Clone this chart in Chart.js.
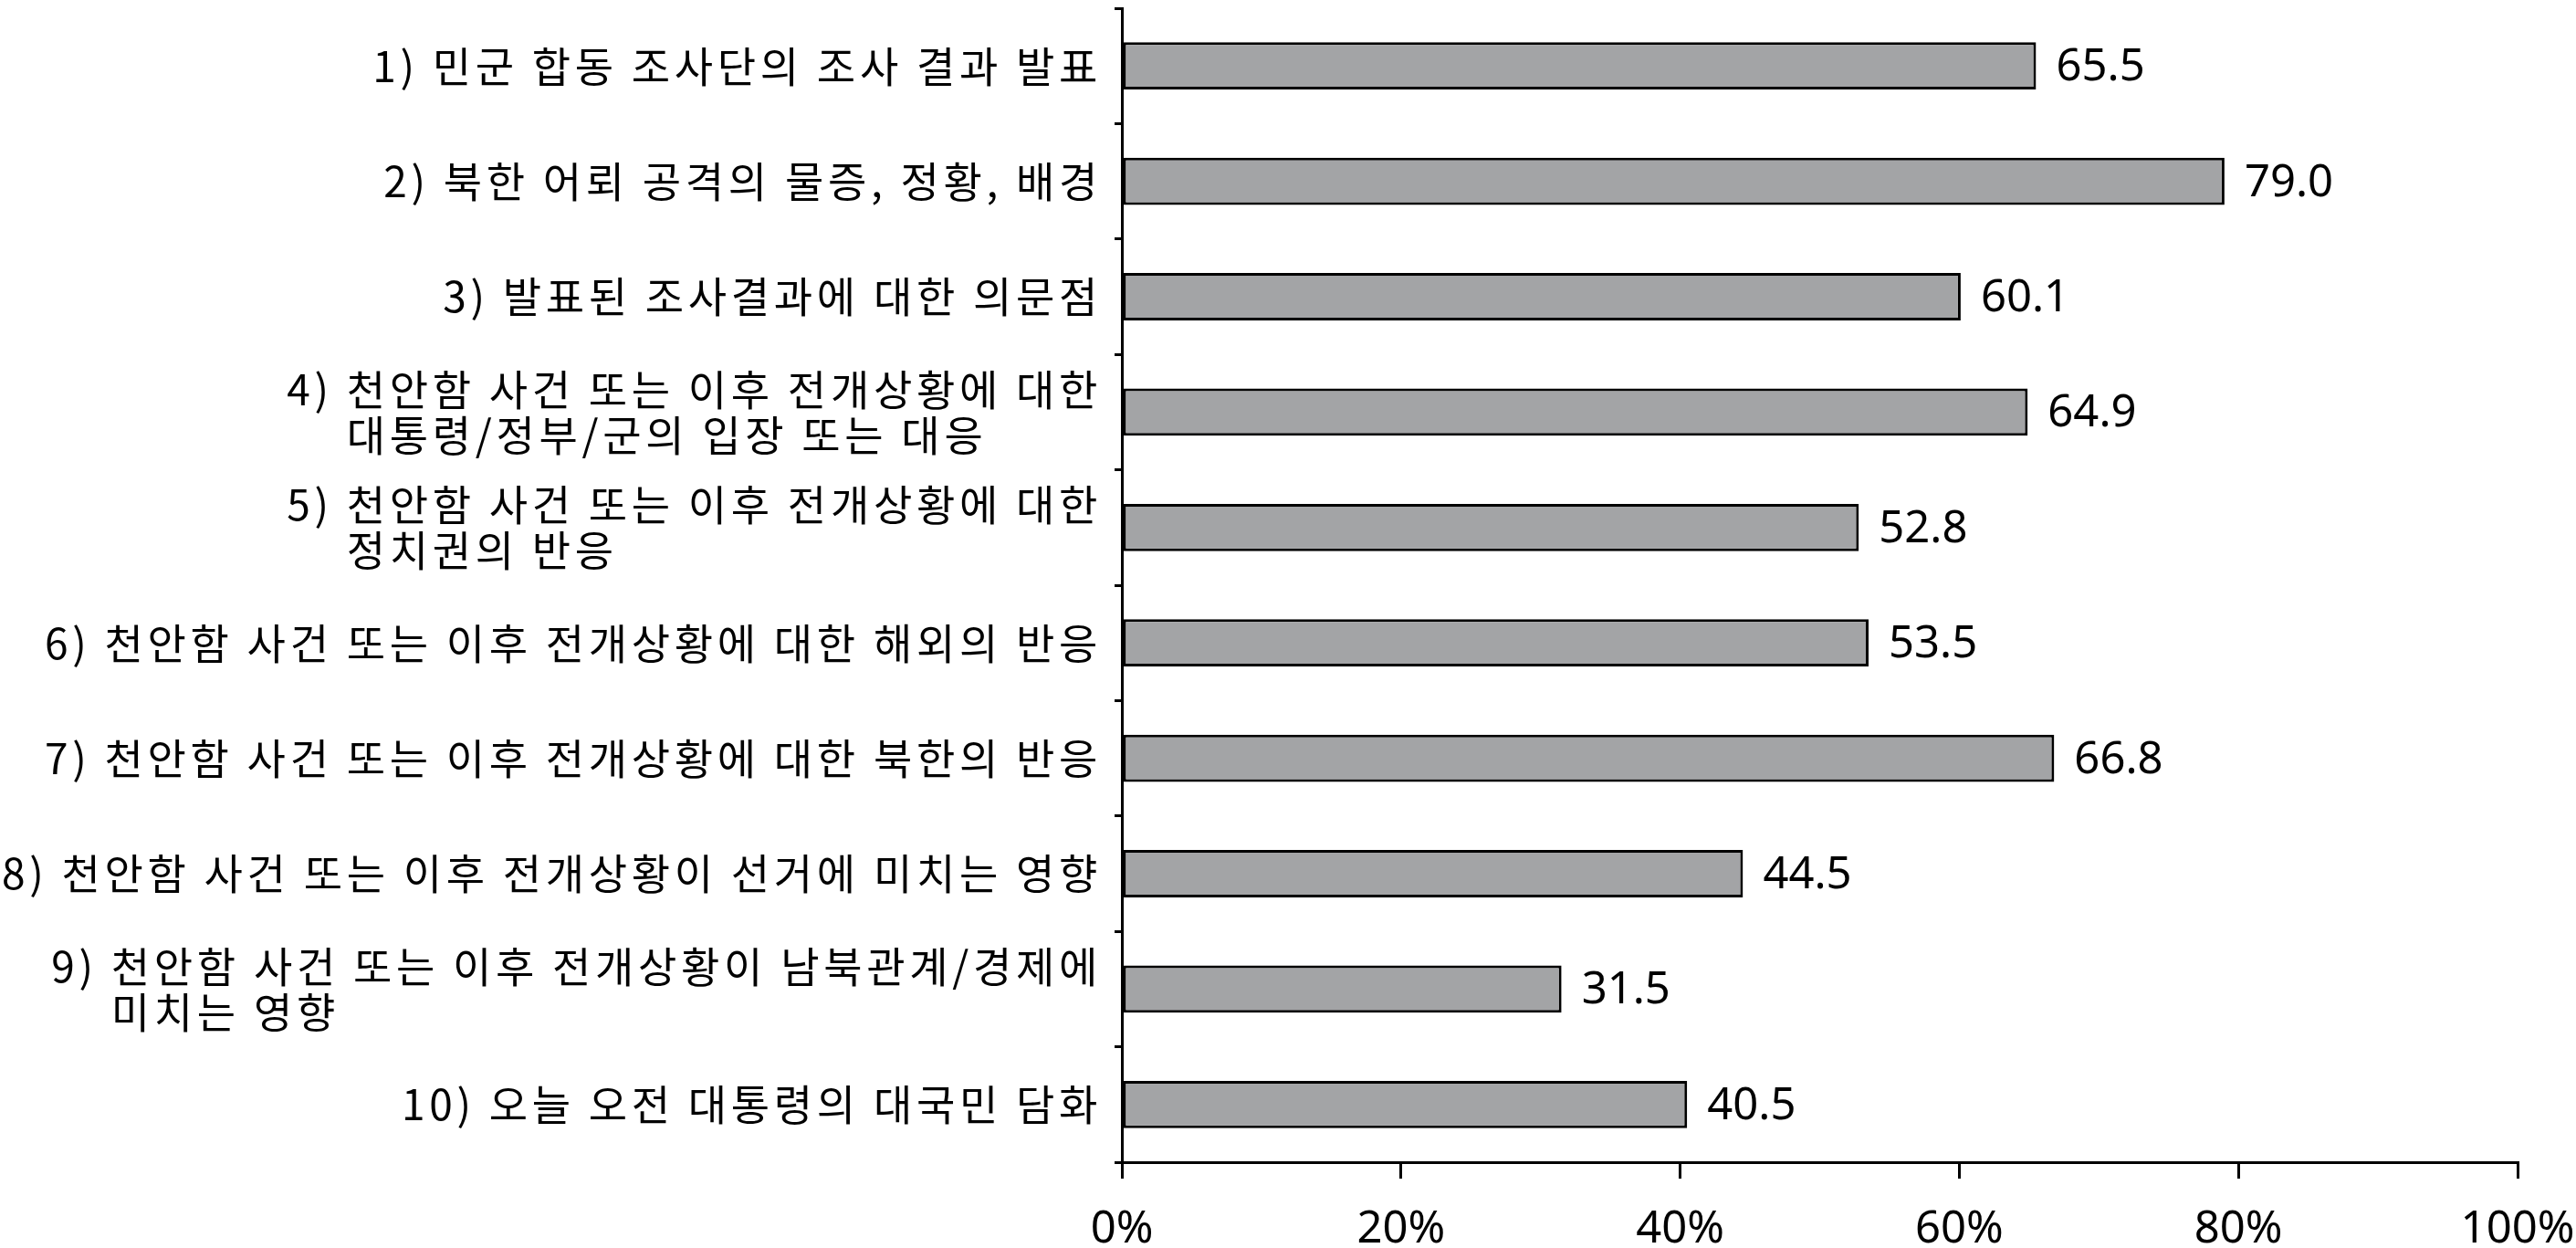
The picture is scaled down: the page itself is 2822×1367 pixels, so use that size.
<!DOCTYPE html>
<html>
<head>
<meta charset="utf-8">
<script src="https://cdn.jsdelivr.net/npm/chart.js@4.4.0/dist/chart.umd.min.js"></script>
<style>
  html, body { margin: 0; padding: 0; background: #fff; }
</style>
</head>
<body>
<canvas id="chart_survey" width="2822" height="1367"></canvas>
<script>
//! Data
let categories = [
  ["1) 민군 합동 조사단의 조사 결과 발표"],
  ["2) 북한 어뢰 공격의 물증, 정황, 배경"],
  ["3) 발표된 조사결과에 대한 의문점"],
  ["4) 천안함 사건 또는 이후 전개상황에 대한", "대통령/정부/군의 입장 또는 대응"],
  ["5) 천안함 사건 또는 이후 전개상황에 대한", "정치권의 반응"],
  ["6) 천안함 사건 또는 이후 전개상황에 대한 해외의 반응"],
  ["7) 천안함 사건 또는 이후 전개상황에 대한 북한의 반응"],
  ["8) 천안함 사건 또는 이후 전개상황이 선거에 미치는 영향"],
  ["9) 천안함 사건 또는 이후 전개상황이 남북관계/경제에", "미치는 영향"],
  ["10) 오늘 오전 대통령의 대국민 담화"],
];
let values = [65.5, 79.0, 60.1, 64.9, 52.8, 53.5, 66.8, 44.5, 31.5, 40.5];
let xTicks = [0, 20, 40, 60, 80, 100];

const FONT = '"Noto Sans CJK KR", "Noto Sans", sans-serif';
const NUM_FONT = '"Noto Sans", sans-serif';
const FONT_SIZE = 46;
const NUM_SIZE = 49;

//! Labels (category text + value labels)
const labelPlugin = {
  id: "labelPlugin",
  afterDraw(chart) {
    let ctx = chart.ctx;
    let yScale = chart.scales.y;
    let xEnd = yScale.right - 22;
    ctx.save();
    ctx.font = FONT_SIZE + "px " + FONT;
    ctx.letterSpacing = "4.7px";
    ctx.fillStyle = "#000";
    ctx.textBaseline = "middle";

    categories.forEach((lines, i) => {
      let yc = yScale.getPixelForValue(i);
      if (lines.length === 1) {
        ctx.textAlign = "right";
        ctx.fillText(lines[0], xEnd, yc);
      } else {
        let lh = 50;
        let top = yc - lh / 2;
        ctx.textAlign = "right";
        ctx.fillText(lines[0], xEnd, top);
        // second line hangs under the text after "N) "
        let prefix = lines[0].slice(0, lines[0].indexOf(" ") + 1);
        let x2 = xEnd - ctx.measureText(lines[0]).width + ctx.measureText(prefix).width;
        ctx.textAlign = "left";
        ctx.fillText(lines[1], x2, top + lh);
      }
    });

    let meta = chart.getDatasetMeta(0);
    ctx.font = NUM_SIZE + "px " + NUM_FONT;
    ctx.letterSpacing = "0px";
    ctx.textAlign = "left";
    meta.data.forEach((bar, i) => {
      ctx.fillText(values[i].toFixed(1), bar.x + 22, bar.y + 2);
    });
    ctx.restore();
  },
};

const ctx = document.getElementById("chart_survey");
new Chart(ctx, {
  type: "bar",
  data: {
    labels: categories.map((l) => l.join(" ")),
    datasets: [
      {
        data: values,
        backgroundColor: "#a3a4a6",
        borderColor: "#000",
        borderWidth: 3,
        borderSkipped: false,
        barPercentage: 0.41,
        categoryPercentage: 1,
      },
    ],
  },
  options: {
    indexAxis: "y",
    responsive: false,
    devicePixelRatio: 1,
    animation: false,
    layout: {
      padding: { top: 9, right: 64, bottom: 0, left: 0 },
    },
    plugins: {
      legend: { display: false },
      tooltip: { enabled: false },
    },
    scales: {
      x: {
        min: 0,
        max: 100,
        afterBuildTicks: (s) => {
          s.ticks = xTicks.map((v) => ({ value: v }));
        },
        afterFit: (s) => {
          s.height = 94;
          s.paddingLeft = 0;
          s.paddingRight = 0;
        },
        grid: {
          drawOnChartArea: false,
          drawTicks: true,
          tickLength: 18,
          color: "#000",
          lineWidth: 3,
        },
        border: { display: true, color: "#000", width: 3 },
        ticks: {
          padding: 27,
          color: "#000",
          font: { family: NUM_FONT, size: NUM_SIZE },
          maxRotation: 0,
          callback: (v) => v + "%",
        },
      },
      y: {
        afterFit: (s) => {
          s.width = 1229;
        },
        grid: {
          offset: true,
          drawOnChartArea: false,
          drawTicks: true,
          tickLength: 8,
          color: "#000",
          lineWidth: 3,
        },
        border: { display: true, color: "#000", width: 3 },
        ticks: { display: false },
      },
    },
  },
  plugins: [labelPlugin],
});
</script>
</body>
</html>
